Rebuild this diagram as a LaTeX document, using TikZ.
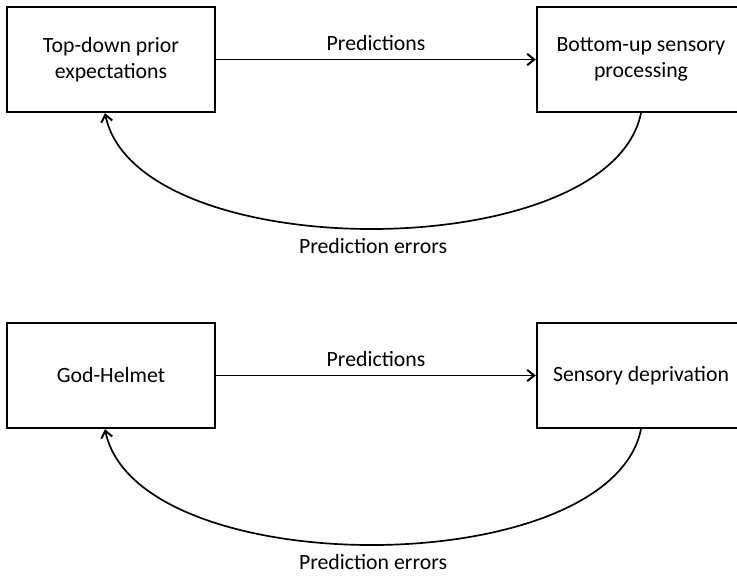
\documentclass[tikz,border=0pt]{standalone}
\usepackage{fontspec}
\setmainfont{Carlito}
\usetikzlibrary{arrows.meta}

\tikzset{
	box/.style={draw, line width=1.7pt, minimum width=5.2cm, minimum height=2.625cm, align=center, font=\fontsize{15.5}{18.5}\selectfont},
	lbl/.style={font=\fontsize{15.5}{18.5}\selectfont},
	pred/.style={line width=1.3pt, -{Straight Barb[length=5pt, width=8pt, line width=1.4pt]}},
	err/.style={line width=1.2pt, -{Straight Barb[length=5pt, width=8pt, line width=1.4pt]}}
}

\begin{document}
\begin{tikzpicture}
	
	\clip (0,0) rectangle (18.425,-14.45);
	
	% top row
	\node[box] (prior) at (2.775,-1.4875) {Top-down prior\\expectations};
	\node[box] (sensory) at (16.025,-1.4875) {Bottom-up sensory\\processing};
	\draw[pred] (prior) -- node[lbl, above=2pt] (pred1) {Predictions} (sensory);
	\draw[err] (sensory.south) .. controls +(-0.8,-3.85) and +(0.8,-3.85) .. ([xshift=-0.15cm]prior.south)
		node[lbl, pos=.5, below=3pt] (err1) {Prediction errors};
	
	% bottom row
	\node[box] (helmet) at (2.775,-9.3875) {God-Helmet};
	\node[box] (depriv) at (16.025,-9.3875) {Sensory deprivation};
	\draw[pred] (helmet) -- node[lbl, above=2pt] (pred2) {Predictions} (depriv);
	\draw[err] (depriv.south) .. controls +(-0.8,-3.85) and +(0.8,-3.85) .. ([xshift=-0.15cm]helmet.south)
		node[lbl, pos=.5, below=3pt] (err2) {Prediction errors};
	%\draw[help lines] (0,0) grid (18,-14);
	
\end{tikzpicture}
\end{document}
